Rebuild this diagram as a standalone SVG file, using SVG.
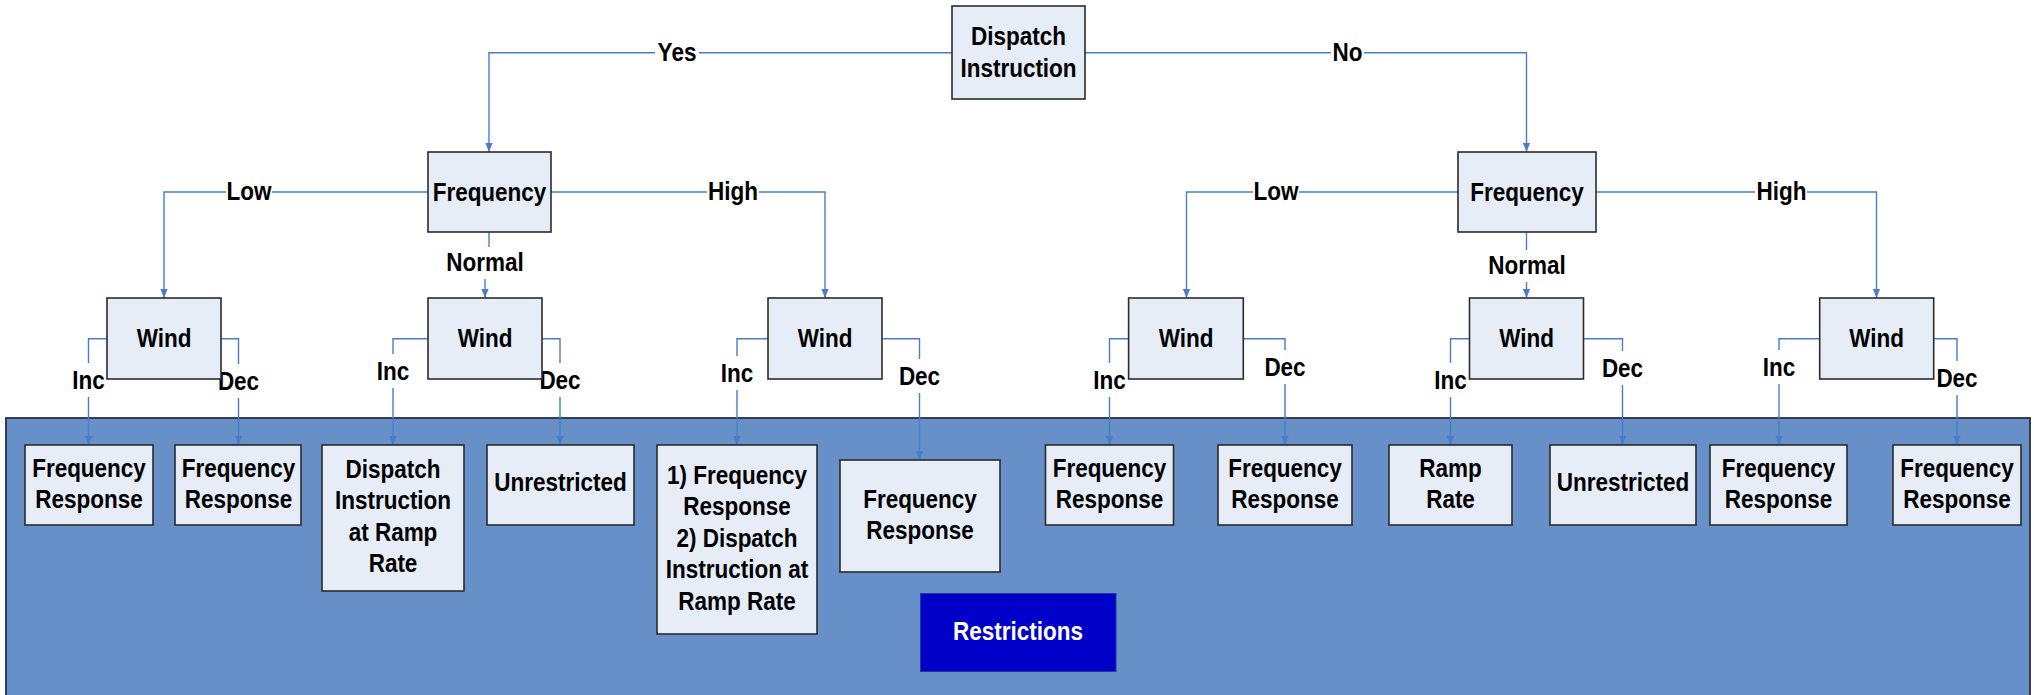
<svg xmlns="http://www.w3.org/2000/svg" width="2034" height="695" viewBox="0 0 2034 695">
<defs>
<marker id="arr" viewBox="0 0 10 8" markerWidth="9" markerHeight="8" refX="10" refY="4" orient="auto" markerUnits="userSpaceOnUse">
<path d="M0,0 L10,4 L0,8 z" fill="#4a7cc7"/>
</marker>
<style>
.box{fill:#e7edf7;stroke:#2b2b2b;stroke-width:1.6}
.t{font-family:"Liberation Sans",Arial,sans-serif;font-weight:bold;font-size:25px;fill:#000;text-anchor:middle}
.c{fill:none;stroke:#4a7cc7;stroke-width:1.4;marker-end:url(#arr)}
.lb{fill:#fff}
</style>
</defs>
<rect x="0" y="0" width="2034" height="695" fill="#fff"/>
<g id="panel">
<rect x="6" y="418" width="2024" height="300" fill="#678fc8" stroke="#2a2f3a" stroke-width="1.8"/>
</g>
<g id="connectors">
<path class="c" d="M952,52.7 H489 V152"/>
<path class="c" d="M1085,52.7 H1526.5 V152"/>
<path class="c" d="M428,192 H164 V298"/>
<path class="c" d="M551,192 H825 V298"/>
<path class="c" d="M489,232 V263 H485 V298"/>
<path class="c" d="M1458,192 H1186.5 V298"/>
<path class="c" d="M1596,192 H1876.5 V298"/>
<path class="c" d="M1526.5,232 V298"/>
<path class="c" d="M107,338.7 H88.5 V445"/>
<path class="c" d="M221,338.7 H238.5 V445"/>
<path class="c" d="M428,338.7 H393 V445"/>
<path class="c" d="M542,338.7 H560 V445"/>
<path class="c" d="M768,338.7 H737 V445"/>
<path class="c" d="M882,338.7 H919.5 V460"/>
<path class="c" d="M1128.6,338.7 H1109.5 V445"/>
<path class="c" d="M1243.3,338.7 H1285 V445"/>
<path class="c" d="M1469.5,338.7 H1450.5 V445"/>
<path class="c" d="M1583.6,338.7 H1622.5 V445"/>
<path class="c" d="M1819.7,338.7 H1779 V445"/>
<path class="c" d="M1933.8,338.7 H1957 V445"/>
</g>
<g id="labels">
<rect class="lb" x="655" y="38" width="44" height="30"/><text class="t" transform="matrix(0.9 0 0 1 677 0)" x="0" y="61">Yes</text>
<rect class="lb" x="1331" y="38" width="33" height="30"/><text class="t" transform="matrix(0.9 0 0 1 1347.5 0)" x="0" y="61">No</text>
<rect class="lb" x="226" y="177" width="46" height="30"/><text class="t" transform="matrix(0.9 0 0 1 249 0)" x="0" y="200">Low</text>
<rect class="lb" x="707" y="177" width="52" height="30"/><text class="t" transform="matrix(0.9 0 0 1 733 0)" x="0" y="200">High</text>
<rect class="lb" x="1253" y="177" width="46" height="30"/><text class="t" transform="matrix(0.9 0 0 1 1276 0)" x="0" y="200">Low</text>
<rect class="lb" x="1755" y="177" width="52" height="30"/><text class="t" transform="matrix(0.9 0 0 1 1781.5 0)" x="0" y="200">High</text>
<rect class="lb" x="446" y="247" width="78" height="32"/><text class="t" transform="matrix(0.9 0 0 1 485 0)" x="0" y="271">Normal</text>
<rect class="lb" x="1488" y="250" width="78" height="32"/><text class="t" transform="matrix(0.9 0 0 1 1527 0)" x="0" y="274">Normal</text>
<rect class="lb" x="71" y="363" width="35" height="34"/><text class="t" transform="matrix(0.9 0 0 1 88.5 0)" x="0" y="389">Inc</text>
<rect class="lb" x="217" y="364" width="43" height="34"/><text class="t" transform="matrix(0.9 0 0 1 238.5 0)" x="0" y="390">Dec</text>
<rect class="lb" x="376" y="354" width="35" height="34"/><text class="t" transform="matrix(0.9 0 0 1 393 0)" x="0" y="380">Inc</text>
<rect class="lb" x="538" y="363" width="43" height="34"/><text class="t" transform="matrix(0.9 0 0 1 560 0)" x="0" y="389">Dec</text>
<rect class="lb" x="720" y="356" width="35" height="34"/><text class="t" transform="matrix(0.9 0 0 1 737 0)" x="0" y="382">Inc</text>
<rect class="lb" x="898" y="359" width="43" height="34"/><text class="t" transform="matrix(0.9 0 0 1 919.5 0)" x="0" y="385">Dec</text>
<rect class="lb" x="1092" y="363" width="35" height="34"/><text class="t" transform="matrix(0.9 0 0 1 1109.5 0)" x="0" y="389">Inc</text>
<rect class="lb" x="1263" y="350" width="43" height="34"/><text class="t" transform="matrix(0.9 0 0 1 1285 0)" x="0" y="376">Dec</text>
<rect class="lb" x="1433" y="363" width="35" height="34"/><text class="t" transform="matrix(0.9 0 0 1 1450.5 0)" x="0" y="389">Inc</text>
<rect class="lb" x="1601" y="351" width="43" height="34"/><text class="t" transform="matrix(0.9 0 0 1 1622.5 0)" x="0" y="377">Dec</text>
<rect class="lb" x="1762" y="350" width="35" height="34"/><text class="t" transform="matrix(0.9 0 0 1 1779 0)" x="0" y="376">Inc</text>
<rect class="lb" x="1936" y="361" width="43" height="34"/><text class="t" transform="matrix(0.9 0 0 1 1957 0)" x="0" y="387">Dec</text>
</g>
<g id="n-dispatch"><rect class="box" x="952" y="6" width="133" height="93"/><text class="t" transform="matrix(0.9 0 0 1 1018.5 0)" x="0" y="45">Dispatch</text><text class="t" transform="matrix(0.9 0 0 1 1018.5 0)" x="0" y="77">Instruction</text></g>
<g id="n-freq-yes"><rect class="box" x="428" y="152" width="123" height="80"/><text class="t" transform="matrix(0.9 0 0 1 489.5 0)" x="0" y="201">Frequency</text></g>
<g id="n-freq-no"><rect class="box" x="1458" y="152" width="138" height="80"/><text class="t" transform="matrix(0.9 0 0 1 1527 0)" x="0" y="201">Frequency</text></g>
<g id="n-wind1"><rect class="box" x="107" y="298" width="114" height="81"/><text class="t" transform="matrix(0.9 0 0 1 164 0)" x="0" y="347">Wind</text></g>
<g id="n-wind2"><rect class="box" x="428" y="298" width="114" height="81"/><text class="t" transform="matrix(0.9 0 0 1 485 0)" x="0" y="347">Wind</text></g>
<g id="n-wind3"><rect class="box" x="768" y="298" width="114" height="81"/><text class="t" transform="matrix(0.9 0 0 1 825 0)" x="0" y="347">Wind</text></g>
<g id="n-wind4"><rect class="box" x="1128.6" y="298" width="114.7" height="81"/><text class="t" transform="matrix(0.9 0 0 1 1186 0)" x="0" y="347">Wind</text></g>
<g id="n-wind5"><rect class="box" x="1469.5" y="298" width="114" height="81"/><text class="t" transform="matrix(0.9 0 0 1 1526.5 0)" x="0" y="347">Wind</text></g>
<g id="n-wind6"><rect class="box" x="1819.7" y="298" width="114" height="81"/><text class="t" transform="matrix(0.9 0 0 1 1876.7 0)" x="0" y="347">Wind</text></g>
<g id="n-r1"><rect class="box" x="25" y="445" width="128" height="80"/><text class="t" transform="matrix(0.9 0 0 1 89 0)" x="0" y="477">Frequency</text><text class="t" transform="matrix(0.9 0 0 1 89 0)" x="0" y="508">Response</text></g>
<g id="n-r2"><rect class="box" x="175" y="445" width="126" height="80"/><text class="t" transform="matrix(0.9 0 0 1 238.5 0)" x="0" y="477">Frequency</text><text class="t" transform="matrix(0.9 0 0 1 238.5 0)" x="0" y="508">Response</text></g>
<g id="n-r3"><rect class="box" x="322" y="445" width="142" height="146"/><text class="t" transform="matrix(0.9 0 0 1 393 0)" x="0" y="478">Dispatch</text><text class="t" transform="matrix(0.9 0 0 1 393 0)" x="0" y="509">Instruction</text><text class="t" transform="matrix(0.9 0 0 1 393 0)" x="0" y="541">at Ramp</text><text class="t" transform="matrix(0.9 0 0 1 393 0)" x="0" y="572">Rate</text></g>
<g id="n-r4"><rect class="box" x="487" y="445" width="147" height="80"/><text class="t" transform="matrix(0.9 0 0 1 560.5 0)" x="0" y="491">Unrestricted</text></g>
<g id="n-r5"><rect class="box" x="657" y="445" width="160" height="189"/><text class="t" transform="matrix(0.9 0 0 1 737 0)" x="0" y="484">1) Frequency</text><text class="t" transform="matrix(0.9 0 0 1 737 0)" x="0" y="515">Response</text><text class="t" transform="matrix(0.9 0 0 1 737 0)" x="0" y="547">2) Dispatch</text><text class="t" transform="matrix(0.9 0 0 1 737 0)" x="0" y="578">Instruction at</text><text class="t" transform="matrix(0.9 0 0 1 737 0)" x="0" y="610">Ramp Rate</text></g>
<g id="n-r6"><rect class="box" x="840" y="460" width="160" height="112"/><text class="t" transform="matrix(0.9 0 0 1 920 0)" x="0" y="508">Frequency</text><text class="t" transform="matrix(0.9 0 0 1 920 0)" x="0" y="539">Response</text></g>
<g id="n-r7"><rect class="box" x="1045.5" y="445" width="128" height="80"/><text class="t" transform="matrix(0.9 0 0 1 1109.5 0)" x="0" y="477">Frequency</text><text class="t" transform="matrix(0.9 0 0 1 1109.5 0)" x="0" y="508">Response</text></g>
<g id="n-r8"><rect class="box" x="1218" y="445" width="134" height="80"/><text class="t" transform="matrix(0.9 0 0 1 1285 0)" x="0" y="477">Frequency</text><text class="t" transform="matrix(0.9 0 0 1 1285 0)" x="0" y="508">Response</text></g>
<g id="n-r9"><rect class="box" x="1389" y="445" width="123" height="80"/><text class="t" transform="matrix(0.9 0 0 1 1450.5 0)" x="0" y="477">Ramp</text><text class="t" transform="matrix(0.9 0 0 1 1450.5 0)" x="0" y="508">Rate</text></g>
<g id="n-r10"><rect class="box" x="1550" y="445" width="146" height="80"/><text class="t" transform="matrix(0.9 0 0 1 1623 0)" x="0" y="491">Unrestricted</text></g>
<g id="n-r11"><rect class="box" x="1710" y="445" width="137" height="80"/><text class="t" transform="matrix(0.9 0 0 1 1778.5 0)" x="0" y="477">Frequency</text><text class="t" transform="matrix(0.9 0 0 1 1778.5 0)" x="0" y="508">Response</text></g>
<g id="n-r12"><rect class="box" x="1893" y="445" width="128" height="80"/><text class="t" transform="matrix(0.9 0 0 1 1957 0)" x="0" y="477">Frequency</text><text class="t" transform="matrix(0.9 0 0 1 1957 0)" x="0" y="508">Response</text></g>
<g id="n-restrictions"><rect x="920.5" y="593.5" width="195.5" height="78" fill="#0000c8" stroke="#1c3a9a" stroke-width="1"/><text class="t" transform="matrix(0.9 0 0 1 1018 0)" x="0" y="640" style="fill:#fff">Restrictions</text></g>
</svg>
